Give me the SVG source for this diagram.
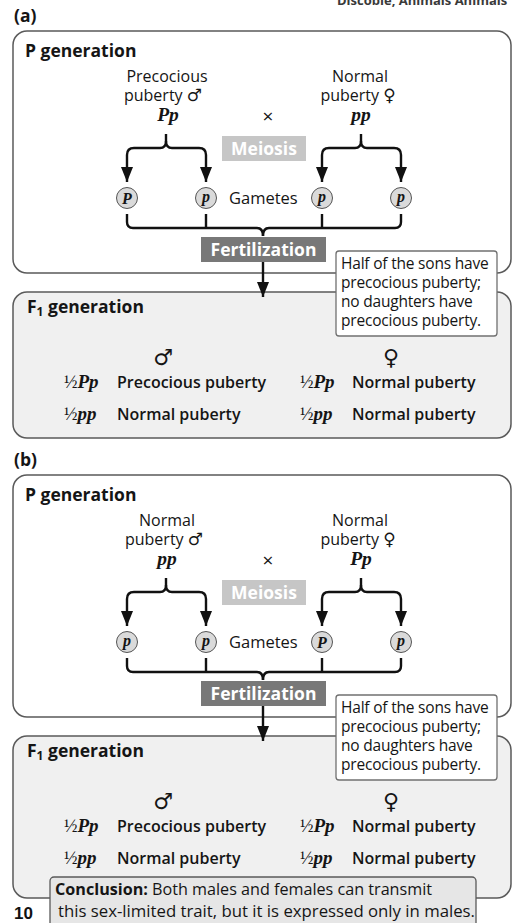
<svg xmlns="http://www.w3.org/2000/svg" width="514" height="923" viewBox="0 0 514 923">
  <defs>
    <style>
      .t { font-family: "Open Sans", "Noto Sans", sans-serif; font-size: 16px; fill: #151515; }
      .b { font-weight: 700; }
      .hd { font-family: "Open Sans", "Noto Sans", sans-serif; font-weight: 700; font-size: 17.5px; fill: #151515; }
      .row { font-family: "Open Sans", "Noto Sans", sans-serif; font-weight: 600; font-size: 16px; fill: #151515; }
      .mid { text-anchor: middle; }
      .geno { font-family: "Liberation Serif", serif; font-style: italic; font-weight: 700; font-size: 19.5px; fill: #151515; }
      .half { font-family: "Liberation Serif", serif; font-size: 18px; fill: #151515; }
      .sym { font-family: "DejaVu Sans", sans-serif; font-weight: 400; }
      .panel { fill: #ffffff; stroke: #5a5a5a; stroke-width: 1.5; }
      .panelF { fill: #f0f0f0; stroke: #5a5a5a; stroke-width: 1.5; }
      .note { fill: #ffffff; stroke: #707070; stroke-width: 1.3; }
      .note-t { font-family: "Open Sans", "Noto Sans", sans-serif; font-size: 15.5px; fill: #151515; letter-spacing: -0.2px; }
      .meio { fill: #c6c6c6; }
      .fert { fill: #787878; }
      .boxt { font-family: "Open Sans", "Noto Sans", sans-serif; font-weight: 700; font-size: 17.5px; fill: #ffffff; text-anchor: middle; }
      .gam { fill: #dadada; stroke: #555555; stroke-width: 1; }
      .gl { font-family: "Liberation Serif", serif; font-style: italic; font-weight: 700; font-size: 16px; fill: #151515; text-anchor: middle; }
      .wire { fill: none; stroke: #111111; stroke-width: 2.4; stroke-linejoin: round; stroke-linecap: butt; }
    </style>
    <marker id="arrow" markerUnits="userSpaceOnUse" markerWidth="16" markerHeight="14" viewBox="0 0 16 14" refX="15" refY="7" orient="auto">
      <path d="M0,1 L15,7 L0,13 Z" fill="#111111"/>
    </marker>
  </defs>

  <!-- running header at page top -->
  <text x="337" y="5" class="t b" style="font-size:13px;fill:#3a3a3a">Discoble, Animals Animals</text>

  <!-- ================= cross (a) ================= -->
  <g id="label-a"><text x="14" y="22" class="hd">(a)</text></g>

  <g id="a-p-generation">
    <rect x="13" y="31" width="498" height="242" rx="14" class="panel"/>
    <text x="25" y="57" class="hd">P generation</text>
  </g>

  <g id="a-f1-generation">
    <rect x="13" y="292" width="498" height="146" rx="14" class="panelF"/>
    <text x="27" y="313" class="hd">F<tspan font-size="12" dy="3">1</tspan><tspan dy="-3"> generation</tspan></text>
  </g>

  <g id="a-connectors">
    <path class="wire" d="M166,134 V141 Q166,148 160,148 H134 Q127,148 127,155 V182" marker-end="url(#arrow)"/>
    <path class="wire" d="M166,141 Q166,148 172,148 H199 Q206,148 206,155 V182" marker-end="url(#arrow)"/>
    <path class="wire" d="M361,134 V141 Q361,148 355,148 H329 Q322,148 322,155 V182" marker-end="url(#arrow)"/>
    <path class="wire" d="M361,141 Q361,148 367,148 H394 Q401,148 401,155 V182" marker-end="url(#arrow)"/>
    <path class="wire" d="M127,214 V222 Q127,228 133,228 H257 Q263,228 263,236"/>
    <path class="wire" d="M263,236 Q263,228 269,228 H395 Q401,228 401,222 V214"/>
    <path class="wire" d="M206,214 V228 M322,214 V228"/>
    <path class="wire" d="M263,262 V297" marker-end="url(#arrow)"/>
  </g>

  <g id="a-male-parent">
    <text x="167" y="82" class="t mid">Precocious</text>
    <text x="163" y="101" class="t mid">puberty <tspan class="sym" font-size="17">♂</tspan></text>
    <text x="168" y="121" class="geno mid">Pp</text>
  </g>
  <g id="a-cross"><text x="268" y="123" class="t mid" style="font-size:19px">×</text></g>
  <g id="a-female-parent">
    <text x="360" y="82" class="t mid">Normal</text>
    <text x="358" y="101" class="t mid">puberty <tspan class="sym" font-size="17">♀</tspan></text>
    <text x="361" y="121" class="geno mid">pp</text>
  </g>

  <g id="a-meiosis">
    <rect x="222" y="136" width="84" height="25" class="meio"/>
    <text x="264" y="155" class="boxt">Meiosis</text>
  </g>

  <g id="a-gametes">
    <circle cx="127" cy="198" r="10.5" class="gam"/><text x="127" y="203.5" class="gl">P</text>
    <circle cx="206" cy="198" r="10.5" class="gam"/><text x="206" y="202" class="gl">p</text>
    <circle cx="322" cy="198" r="10.5" class="gam"/><text x="322" y="202" class="gl">p</text>
    <circle cx="401" cy="198" r="10.5" class="gam"/><text x="401" y="202" class="gl">p</text>
    <text x="229" y="204" class="t" style="font-size:16.5px">Gametes</text>
  </g>

  <g id="a-fertilization">
    <rect x="201" y="237" width="125" height="25" class="fert"/>
    <text x="263.5" y="256" class="boxt">Fertilization</text>
  </g>

  <g id="a-note">
    <rect x="336" y="251" width="161" height="85" rx="3" class="note"/>
    <text x="341" y="269" class="note-t">Half of the sons have</text>
    <text x="341" y="288" class="note-t">precocious puberty;</text>
    <text x="341" y="307" class="note-t">no daughters have</text>
    <text x="341" y="326" class="note-t">precocious puberty.</text>
  </g>

  <g id="a-f1-offspring">
    <text x="163" y="365" class="t mid sym" style="font-size:22px">♂</text>
    <text x="391" y="365" class="t mid sym" style="font-size:22px">♀</text>
    <text x="64" y="388" class="half">½<tspan class="geno" style="font-size:19px">Pp</tspan></text>
    <text x="117" y="388" class="row">Precocious puberty</text>
    <text x="64" y="420" class="half">½<tspan class="geno" style="font-size:19px">pp</tspan></text>
    <text x="117" y="420" class="row">Normal puberty</text>
    <text x="300" y="388" class="half">½<tspan class="geno" style="font-size:19px">Pp</tspan></text>
    <text x="352" y="388" class="row">Normal puberty</text>
    <text x="300" y="420" class="half">½<tspan class="geno" style="font-size:19px">pp</tspan></text>
    <text x="352" y="420" class="row">Normal puberty</text>
  </g>

  <!-- ================= cross (b) ================= -->
  <g id="label-b"><text x="14" y="466" class="hd">(b)</text></g>

  <g transform="translate(0,444)">
    <g id="b-p-generation">
      <rect x="13" y="31" width="498" height="242" rx="14" class="panel"/>
      <text x="25" y="57" class="hd">P generation</text>
    </g>

    <g id="b-f1-generation">
      <rect x="13" y="292" width="498" height="162" rx="14" class="panelF"/>
      <text x="27" y="313" class="hd">F<tspan font-size="12" dy="3">1</tspan><tspan dy="-3"> generation</tspan></text>
    </g>

    <g id="b-connectors">
      <path class="wire" d="M166,134 V141 Q166,148 160,148 H134 Q127,148 127,155 V182" marker-end="url(#arrow)"/>
      <path class="wire" d="M166,141 Q166,148 172,148 H199 Q206,148 206,155 V182" marker-end="url(#arrow)"/>
      <path class="wire" d="M361,134 V141 Q361,148 355,148 H329 Q322,148 322,155 V182" marker-end="url(#arrow)"/>
      <path class="wire" d="M361,141 Q361,148 367,148 H394 Q401,148 401,155 V182" marker-end="url(#arrow)"/>
      <path class="wire" d="M127,214 V222 Q127,228 133,228 H257 Q263,228 263,236"/>
      <path class="wire" d="M263,236 Q263,228 269,228 H395 Q401,228 401,222 V214"/>
      <path class="wire" d="M206,214 V228 M322,214 V228"/>
      <path class="wire" d="M263,262 V297" marker-end="url(#arrow)"/>
    </g>

    <g id="b-male-parent">
      <text x="167" y="82" class="t mid">Normal</text>
      <text x="164" y="101" class="t mid">puberty <tspan class="sym" font-size="17">♂</tspan></text>
      <text x="167" y="121" class="geno mid">pp</text>
    </g>
    <g id="b-cross"><text x="268" y="123" class="t mid" style="font-size:19px">×</text></g>
    <g id="b-female-parent">
      <text x="360" y="82" class="t mid">Normal</text>
      <text x="358" y="101" class="t mid">puberty <tspan class="sym" font-size="17">♀</tspan></text>
      <text x="361" y="121" class="geno mid">Pp</text>
    </g>

    <g id="b-meiosis">
      <rect x="222" y="136" width="84" height="25" class="meio"/>
      <text x="264" y="155" class="boxt">Meiosis</text>
    </g>

    <g id="b-gametes">
      <circle cx="127" cy="198" r="10.5" class="gam"/><text x="127" y="202" class="gl">p</text>
      <circle cx="206" cy="198" r="10.5" class="gam"/><text x="206" y="202" class="gl">p</text>
      <circle cx="322" cy="198" r="10.5" class="gam"/><text x="322" y="203.5" class="gl">P</text>
      <circle cx="401" cy="198" r="10.5" class="gam"/><text x="401" y="202" class="gl">p</text>
      <text x="229" y="204" class="t" style="font-size:16.5px">Gametes</text>
    </g>

    <g id="b-fertilization">
      <rect x="201" y="237" width="125" height="25" class="fert"/>
      <text x="263.5" y="256" class="boxt">Fertilization</text>
    </g>

    <g id="b-note">
      <rect x="336" y="251" width="161" height="85" rx="3" class="note"/>
      <text x="341" y="269" class="note-t">Half of the sons have</text>
      <text x="341" y="288" class="note-t">precocious puberty;</text>
      <text x="341" y="307" class="note-t">no daughters have</text>
      <text x="341" y="326" class="note-t">precocious puberty.</text>
    </g>

    <g id="b-f1-offspring">
      <text x="163" y="365" class="t mid sym" style="font-size:22px">♂</text>
      <text x="391" y="365" class="t mid sym" style="font-size:22px">♀</text>
      <text x="64" y="388" class="half">½<tspan class="geno" style="font-size:19px">Pp</tspan></text>
      <text x="117" y="388" class="row">Precocious puberty</text>
      <text x="64" y="420" class="half">½<tspan class="geno" style="font-size:19px">pp</tspan></text>
      <text x="117" y="420" class="row">Normal puberty</text>
      <text x="300" y="388" class="half">½<tspan class="geno" style="font-size:19px">Pp</tspan></text>
      <text x="352" y="388" class="row">Normal puberty</text>
      <text x="300" y="420" class="half">½<tspan class="geno" style="font-size:19px">pp</tspan></text>
      <text x="352" y="420" class="row">Normal puberty</text>
    </g>
  </g>

  <g id="conclusion">
    <rect x="50" y="877" width="426" height="56" rx="4" fill="#e6e6e6" stroke="#5a5a5a" stroke-width="1.3"/>
    <text x="55" y="895" class="t" textLength="377" lengthAdjust="spacingAndGlyphs"><tspan class="b">Conclusion:</tspan> Both males and females can transmit</text>
    <text x="58" y="917" class="t" textLength="417" lengthAdjust="spacingAndGlyphs">this sex-limited trait, but it is expressed only in males.</text>
  </g>

  <g id="page-number">
    <text x="14" y="919" style="font-family:'Liberation Sans',sans-serif;font-weight:700;font-size:17px;fill:#111">10</text>
  </g>
</svg>
